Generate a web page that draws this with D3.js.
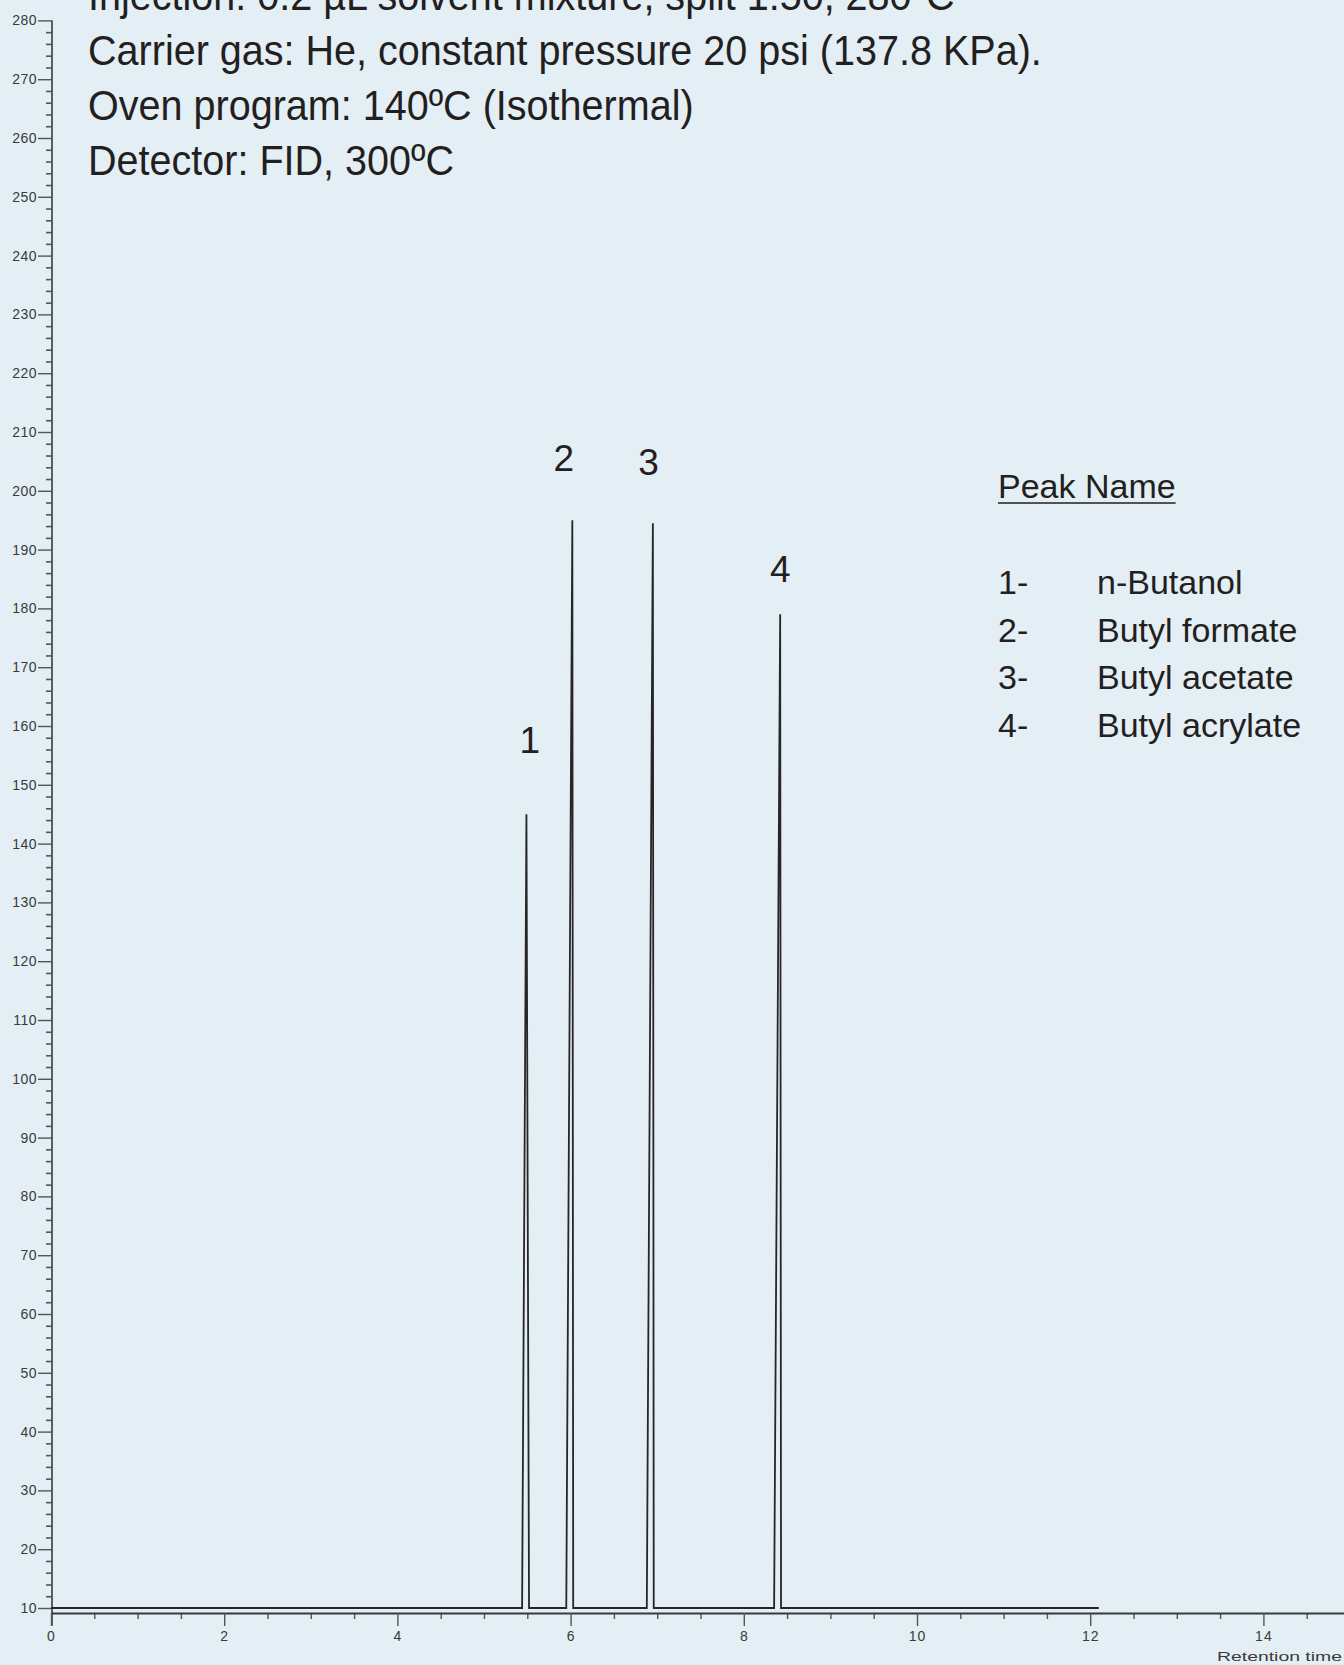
<!DOCTYPE html>
<html>
<head>
<meta charset="utf-8">
<script src="https://cdn.jsdelivr.net/npm/d3@7"></script>
<style>
  body { margin: 0; background: #e3eef5; }
  svg { display: block; }
  text { font-family: "Liberation Sans", Arial, sans-serif; }
</style>
</head>
<body>
<div id="chart"></div>
<script>
// method text printed at the top (first line is cut by the page edge)
var methodLines = [
  "Injection: 0.2 µL solvent mixture, split 1:50, 280ºC",
  "Carrier gas: He, constant pressure 20 psi (137.8 KPa).",
  "Oven program: 140ºC (Isothermal)",
  "Detector: FID, 300ºC"
];

// peak list
var peakNumbers = ["1", "2", "3", "4"];
var peakNames = ["n-Butanol", "Butyl formate", "Butyl acetate", "Butyl acrylate"];
// where the peak numbers sit (min, signal)
var labelTime = [5.53, 5.92, 6.90, 8.42];
var labelSignal = [155.4, 203.4, 202.7, 184.5];

// chromatogram trace (min, signal)
var traceTime   = [0, 5.44, 5.49, 5.52, 5.95, 6.02, 6.03, 6.88, 6.95, 6.96, 8.35, 8.42, 8.43, 12.1];
var traceSignal = [10, 10, 145, 10, 10, 195, 10, 10, 194.5, 10, 10, 179, 10, 10];

// axis ticks
var xTickValues = [0, 2, 4, 6, 8, 10, 12, 14];
var yTickValues = [10, 20, 30, 40, 50, 60, 70, 80, 90, 100, 110, 120, 130, 140,
                   150, 160, 170, 180, 190, 200, 210, 220, 230, 240, 250, 260, 270, 280];

var width = 1344, height = 1665;
var ink = "#231f20";

var svg = d3.select("#chart")
  .append("svg")
    .attr("width", width)
    .attr("height", height);

svg.append("rect")
  .attr("width", width)
  .attr("height", height)
  .attr("fill", "#e3eef5");

// scales
var x = d3.scaleLinear()
  .domain([0, 15])
  .range([51, 51 + 15 * 86.6]);

var y = d3.scaleLinear()
  .domain([10, 280])
  .range([1608, 20.4]);

// Y axis
var yAxisX = 52;
svg.append("line")
  .attr("x1", yAxisX).attr("x2", yAxisX)
  .attr("y1", y(7)).attr("y2", y(280))
  .attr("stroke", "#3a3a3a")
  .attr("stroke-width", 1.6);

var yMinor = d3.range(12, 280, 2).filter(function(v) { return v % 10 !== 0; });
svg.append("g")
  .attr("transform", "translate(" + yAxisX + ",0)")
  .call(d3.axisLeft(y).tickValues(yMinor).tickSize(6).tickFormat(""))
  .call(function(g) { g.select(".domain").remove(); })
  .selectAll("line")
    .attr("stroke", "#555")
    .attr("stroke-width", 1.6);

var yAxis = svg.append("g")
  .attr("transform", "translate(" + yAxisX + ",0)")
  .call(d3.axisLeft(y).tickValues(yTickValues).tickSize(14).tickPadding(1))
  .call(function(g) { g.select(".domain").remove(); });
yAxis.selectAll("line")
  .attr("stroke", "#555")
  .attr("stroke-width", 1.4);
yAxis.selectAll("text")
  .attr("font-size", 14)
  .attr("letter-spacing", 0.5)
  .attr("fill", "#3a3a3a");

// X axis
var xAxisY = 1613;
var xMinor = d3.range(0.5, 15, 0.5).filter(function(v) { return v % 2 !== 0; });
svg.append("g")
  .attr("transform", "translate(0," + xAxisY + ")")
  .call(d3.axisBottom(x).tickValues(xMinor).tickSize(6).tickFormat(""))
  .call(function(g) { g.select(".domain").remove(); })
  .selectAll("line")
    .attr("stroke", "#555")
    .attr("stroke-width", 1.4);

var xAxis = svg.append("g")
  .attr("transform", "translate(0," + xAxisY + ")")
  .call(d3.axisBottom(x).tickValues(xTickValues).tickSize(13).tickPadding(5).tickSizeOuter(0));
xAxis.select(".domain")
  .attr("stroke", "#3a3a3a")
  .attr("stroke-width", 1.8);
xAxis.selectAll(".tick line")
  .attr("stroke", "#555")
  .attr("stroke-width", 1.4);
xAxis.selectAll("text")
  .attr("font-size", 14)
  .attr("letter-spacing", 1)
  .attr("fill", "#3a3a3a");

svg.append("text")
  .attr("x", 1217)
  .attr("y", 1661)
  .attr("font-size", 13)
  .attr("textLength", 125)
  .attr("lengthAdjust", "spacingAndGlyphs")
  .attr("fill", "#3a3a3a")
  .text("Retention time");

// the trace
var line = d3.line()
  .x(function(d) { return x(d[0]); })
  .y(function(d) { return y(d[1]); });

svg.append("path")
  .datum(d3.zip(traceTime, traceSignal))
  .attr("fill", "none")
  .attr("stroke", "#262626")
  .attr("stroke-width", 1.8)
  .attr("stroke-linejoin", "miter")
  .attr("d", line);

// peak numbers
svg.selectAll(".peaklabel")
  .data(peakNumbers)
  .enter().append("text")
    .attr("class", "peaklabel")
    .attr("x", function(d, i) { return x(labelTime[i]); })
    .attr("y", function(d, i) { return y(labelSignal[i]); })
    .attr("text-anchor", "middle")
    .attr("font-size", 37)
    .attr("fill", ink)
    .text(function(d) { return d; });

// method text
var head = svg.append("g")
  .attr("transform", "translate(88,0) scale(0.92,1)");
head.selectAll("text")
  .data(methodLines)
  .enter().append("text")
    .attr("x", 0)
    .attr("y", function(d, i) { return 10 + i * 55; })
    .attr("font-size", 43)
    .attr("fill", ink)
    .text(function(d) { return d; });

// legend
var legend = svg.append("g")
  .attr("transform", "translate(998,0)");
var title = legend.append("text")
  .attr("x", 0)
  .attr("y", 498)
  .attr("font-size", 34)
  .attr("fill", ink)
  .text("Peak Name");
legend.append("line")
  .attr("x1", 0)
  .attr("x2", title.node().getComputedTextLength())
  .attr("y1", 503).attr("y2", 503)
  .attr("stroke", ink)
  .attr("stroke-width", 1.6);

var rows = legend.selectAll(".row")
  .data(peakNames)
  .enter().append("g")
    .attr("class", "row")
    .attr("transform", function(d, i) { return "translate(0," + (594 + i * 47.7) + ")"; });
rows.append("text")
  .attr("font-size", 34)
  .attr("fill", ink)
  .text(function(d, i) { return peakNumbers[i] + "-"; });
rows.append("text")
  .attr("x", 99)
  .attr("font-size", 34)
  .attr("fill", ink)
  .text(function(d) { return d; });
</script>
</body>
</html>
